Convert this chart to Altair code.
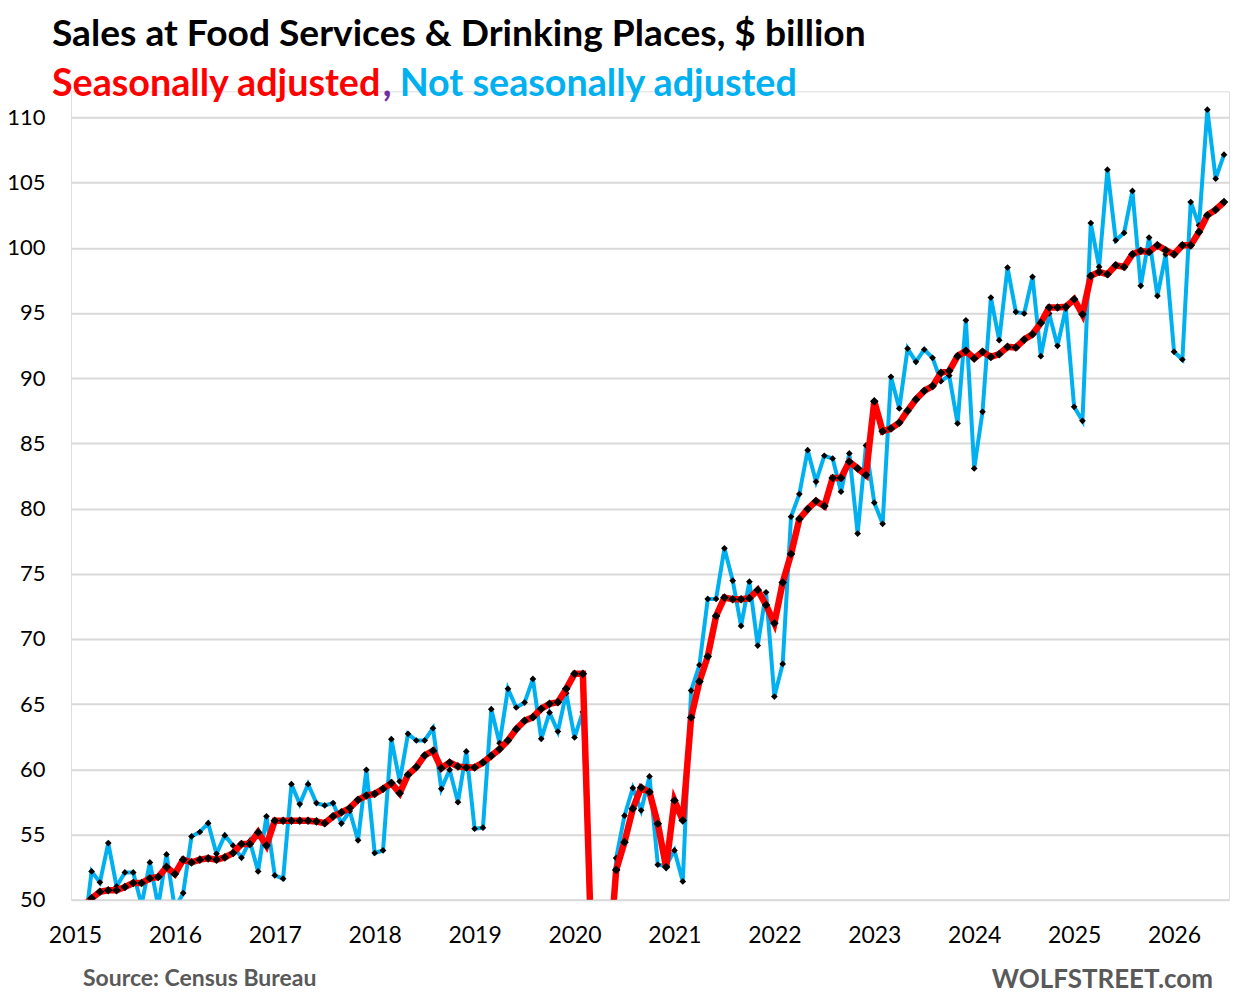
import altair as alt
import pandas as pd

# Monthly series starting Jan 2015 ($ billion)
start_year = 2015
sa_values = [
    48.9, 49.5, 50.1, 50.61, 50.72, 50.72, 50.97, 51.28, 51.28, 51.63, 51.74, 52.5,
    51.97, 53.07, 52.86, 53.07, 53.17, 53.07, 53.24, 53.58, 54.27, 54.27, 55.16, 54.16,
    56.05, 56.05, 56.05, 56.05, 56.05, 56.0, 55.87, 56.39, 56.7, 57.03, 57.66, 57.99,
    58.12, 58.5, 58.94, 58.17, 59.58, 60.17, 61.06, 61.42, 60.09, 60.52, 60.22, 60.14,
    60.14, 60.52, 61.03, 61.55, 62.21, 63.08, 63.72, 64.0, 64.64, 65.02, 65.15, 66.17,
    67.32, 67.32, 46.8, 30.0, 44.0, 52.28, 54.41, 56.98, 58.6, 58.25, 55.82, 52.5,
    57.61, 56.08, 63.97, 66.73, 68.65, 71.76, 73.17, 73.04, 73.04, 73.12, 73.75, 72.6,
    71.2, 74.32, 76.51, 79.2, 79.96, 80.57, 80.19, 82.34, 82.34, 83.59, 83.08, 82.57,
    88.22, 85.93, 86.14, 86.58, 87.5, 88.37, 89.03, 89.39, 90.41, 90.56, 91.69, 92.09,
    91.51, 92.02, 91.63, 91.84, 92.4, 92.35, 92.96, 93.37, 94.24, 95.42, 95.42, 95.47,
    96.05, 94.9, 97.84, 98.15, 97.97, 98.66, 98.53, 99.5, 99.76, 99.68, 100.19, 99.81,
    99.5, 100.19, 100.19, 101.21, 102.49, 102.92, 103.51,
]
nsa_values = [
    45.5, 47.0, 52.17, 51.33, 54.34, 51.02, 52.09, 52.09, 49.6, 52.86, 49.5, 53.47,
    49.3, 50.51, 54.85, 55.19, 55.87, 53.52, 54.93, 54.14, 53.22, 54.5, 52.17, 56.39,
    51.86, 51.61, 58.86, 57.33, 58.86, 57.41, 57.23, 57.41, 55.85, 56.8, 54.55, 59.96,
    53.58, 53.78, 62.31, 59.07, 62.72, 62.21, 62.21, 63.15, 58.5, 59.96, 57.48, 61.37,
    55.44, 55.52, 64.61, 62.0, 66.17, 64.74, 65.12, 66.93, 62.34, 64.35, 62.9, 65.84,
    62.44, 64.4, 47.0, 29.0, 42.0, 53.19, 56.44, 58.56, 56.85, 59.45, 52.68, 52.6,
    53.78, 51.4, 66.04, 68.0, 73.07, 73.07, 76.95, 74.47, 71.0, 74.39, 69.49, 73.58,
    65.58, 68.08, 79.37, 81.11, 84.48, 82.06, 84.05, 83.84, 81.29, 84.23, 78.08, 84.84,
    80.45, 78.83, 90.1, 87.68, 92.27, 91.25, 92.2, 91.56, 89.77, 90.2, 86.53, 94.44,
    83.08, 87.42, 96.18, 92.91, 98.48, 95.08, 94.96, 97.77, 91.69, 94.96, 92.48, 95.34,
    87.8, 86.73, 101.9, 98.53, 105.99, 100.57, 101.14, 104.36, 97.08, 100.78, 96.31, 99.5,
    92.02, 91.43, 103.51, 101.72, 110.59, 105.3, 107.14,
]
year_ticks = list(range(2015, 2027))
y_ticks = list(range(50, 111, 5))

t = [start_year + i / 12 for i in range(len(sa_values))]
df_sa = pd.DataFrame({"t": t, "v": sa_values})
df_nsa = pd.DataFrame({"t": t, "v": nsa_values})

FONT = "Lato"
x_enc = alt.X(
    "t:Q",
    scale=alt.Scale(domain=[2015 - 0.48 / 12, 2015 + 138.6 / 12], nice=False, zero=False),
    axis=alt.Axis(values=year_ticks, format="d", grid=False, ticks=False, domain=False,
                  labelFont=FONT, labelFontSize=23, labelColor="black", labelPadding=25,
                  labelFlush=False, labelOverlap=False, title=None),
)
y_enc = alt.Y(
    "v:Q",
    scale=alt.Scale(domain=[50, 112], nice=False, zero=False),
    axis=alt.Axis(values=y_ticks, grid=True, gridColor="#D9D9D9", gridWidth=2,
                  ticks=False, domain=False, labelFont=FONT, labelFontSize=22,
                  labelColor="black", labelPadding=26, title=None),
)

nsa_line = alt.Chart(df_nsa).mark_line(color="#00B0F0", strokeWidth=4, clip=True).encode(x=x_enc, y=y_enc)
nsa_pts = alt.Chart(df_nsa).mark_point(shape="diamond", filled=True, color="black", size=45,
                                       opacity=1, clip=True).encode(x="t:Q", y="v:Q")
sa_line = alt.Chart(df_sa).mark_line(color="#FF0000", strokeWidth=6.5, clip=True).encode(x="t:Q", y="v:Q")
sa_pts = alt.Chart(df_sa).mark_point(shape="diamond", filled=True, color="black", size=75,
                                     opacity=1, clip=True).encode(x="t:Q", y="v:Q")

one = alt.Data(values=[{}])


def label(text, x, y, color, size, align="left", weight="bold"):
    return alt.Chart(one).mark_text(
        text=text, align=align, baseline="alphabetic", font=FONT, fontSize=size,
        fontWeight=weight, color=color,
    ).encode(x=alt.value(x), y=alt.value(y))


title = label("Sales at Food Services & Drinking Places, $ billion", -19, -45, "black", 37.2)
sub_red = label("Seasonally adjusted", -19, 5, "#FF0000", 37.7)
sub_comma = label(",", 312, 5, "#7030A0", 37.7)
sub_blue = label("Not seasonally adjusted", 329, 5, "#00B0F0", 37.7)
source = label("Source: Census Bureau", 12, 895, "#595959", 23)
brand = label("WOLFSTREET.com", 1143, 897, "#595959", 26, align="right")

chart = alt.layer(
    nsa_line, nsa_pts, sa_line, sa_pts, title, sub_red, sub_comma, sub_blue, source, brand
).properties(
    width=1159, height=809,
    padding={"left": 63, "top": 83, "right": 6, "bottom": 97},
    autosize=alt.AutoSizeParams(type="none"),
).configure_view(stroke=None).configure(background="white")

chart.save("out.html", embed_options={"renderer": "svg", "actions": False})
